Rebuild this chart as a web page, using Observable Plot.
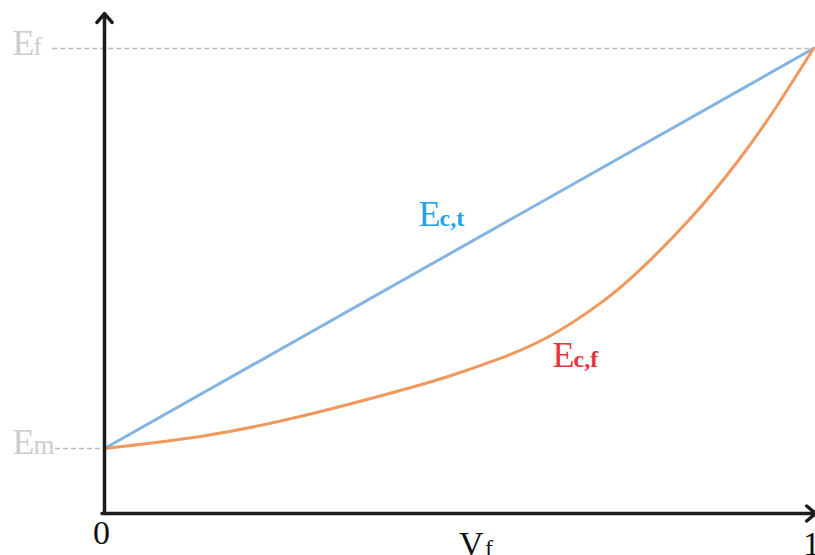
<!DOCTYPE html>
<html>
<head>
<meta charset="utf-8">
<script src="https://cdn.jsdelivr.net/npm/d3@7"></script>
<script src="https://cdn.jsdelivr.net/npm/@observablehq/plot@0.6"></script>
<style>
  html, body { margin: 0; padding: 0; background: #fff; }
</style>
</head>
<body>
<div id="chart"></div>
<script>
// Fibre volume fraction Vf (0 = pure matrix, 1 = pure fibre)
const vfLine = [0, 1];
// Ec,t : linear (isostrain) composite modulus, normalised so Em = 0 and Ef = 1
const ectLine = [0, 1];

// Ec,f : transverse (isostress) composite modulus sampled along Vf
const vfCurve = [0, 0.135, 0.276, 0.417, 0.488, 0.559, 0.629, 0.70, 0.756, 0.827, 0.894, 0.946, 1];
const ecfCurve = [0, 0.03, 0.08, 0.145, 0.182, 0.226, 0.282, 0.364, 0.448, 0.576, 0.72, 0.85, 1];

// Reference moduli levels on the vertical axis
const levelNames = ["m", "f"];
const levelValues = [0, 1];

// Axis ends and tick labels
const xTicks = ["0", "1"];
const yLo = -0.1625, yHi = 1.0875;

const blueLine = d3.zip(vfLine, ectLine).map(([vf, e]) => ({vf, e}));
const orangeCurve = d3.zip(vfCurve, ecfCurve).map(([vf, e]) => ({vf, e}));

const serif = "Liberation Serif, Times New Roman, serif";
const grey = "#cdcdcd";

// An "E" with a subscript, drawn as two text marks sharing the same anchor
function subscripted(x, y, sub, color, {dx = 0, dy = 0, size = 36, subSize = 24, subDx = 21, subWeight = "bold"} = {}) {
  const common = {x, y, textAnchor: "start", lineAnchor: "bottom", fill: color, fontFamily: serif};
  return [
    Plot.text(["E"], {...common, dx, dy, fontSize: size}),
    Plot.text([sub], {...common, dx: dx + subDx, dy, fontSize: subSize, fontWeight: subWeight})
  ];
}

const chart = Plot.plot({
  width: 815,
  height: 555,
  marginLeft: 104,
  marginRight: 2,
  marginTop: 13,
  marginBottom: 42,
  x: {domain: [0, 1], axis: null},
  y: {domain: [yLo, yHi], axis: null},
  marks: [
    // dashed guides at Em and Ef
    Plot.ruleY([levelValues[1]], {x1: -0.073, x2: 1, stroke: "#bdbdbd", strokeWidth: 1.3, strokeDasharray: "5,3"}),
    Plot.ruleY([levelValues[0]], {x1: -0.069, x2: 0, stroke: "#bdbdbd", strokeWidth: 1.3, strokeDasharray: "5,3"}),

    // composite modulus curves
    Plot.line(blueLine, {x: "vf", y: "e", stroke: "#84b4e2", strokeWidth: 3}),
    Plot.line(orangeCurve, {x: "vf", y: "e", stroke: "#f1985e", strokeWidth: 3, curve: "natural"}),

    // axes with arrowheads
    Plot.arrow([0], {x1: 0, x2: 0, y1: yLo, y2: yHi, stroke: "#1c1c1c", strokeWidth: 3.5, headLength: 5, headAngle: 80}),
    Plot.arrow([0], {x1: -0.0035, x2: 1.003, y1: yLo, y2: yLo, stroke: "#1c1c1c", strokeWidth: 3.5, headLength: 5, headAngle: 80}),

    // level labels Em and Ef
    ...subscripted(0, levelValues[0], levelNames[0], grey, {dx: -92, dy: 5, subSize: 27, subWeight: "normal"}),
    ...subscripted(0, levelValues[1], levelNames[1], grey, {dx: -92, dy: 6, subSize: 25, subWeight: "normal"}),

    // tick labels and axis title
    Plot.text([xTicks[0]], {x: 0, y: yLo, dx: -3, dy: 30, lineAnchor: "bottom", fontSize: 34, fontFamily: serif, fill: "#111"}),
    Plot.text([xTicks[1]], {x: 1, y: yLo, dx: -2, dy: 41, lineAnchor: "bottom", fontSize: 34, fontFamily: serif, fill: "#111"}),
    Plot.text(["V"], {x: 0.5, y: yLo, dx: 0, dy: 41, textAnchor: "start", lineAnchor: "bottom", fontSize: 34, fontFamily: serif, fill: "#111"}),
    Plot.text(["f"], {x: 0.5, y: yLo, dx: 26, dy: 42, textAnchor: "start", lineAnchor: "bottom", fontSize: 24, fontFamily: serif, fill: "#111"}),

    // curve labels
    ...subscripted(0.443, 0.5575, "c,t", "#22a3ec"),
    ...subscripted(0.632, 0.205, "c,f", "#e8333d")
  ]
});

document.getElementById("chart").appendChild(chart);
</script>
</body>
</html>
